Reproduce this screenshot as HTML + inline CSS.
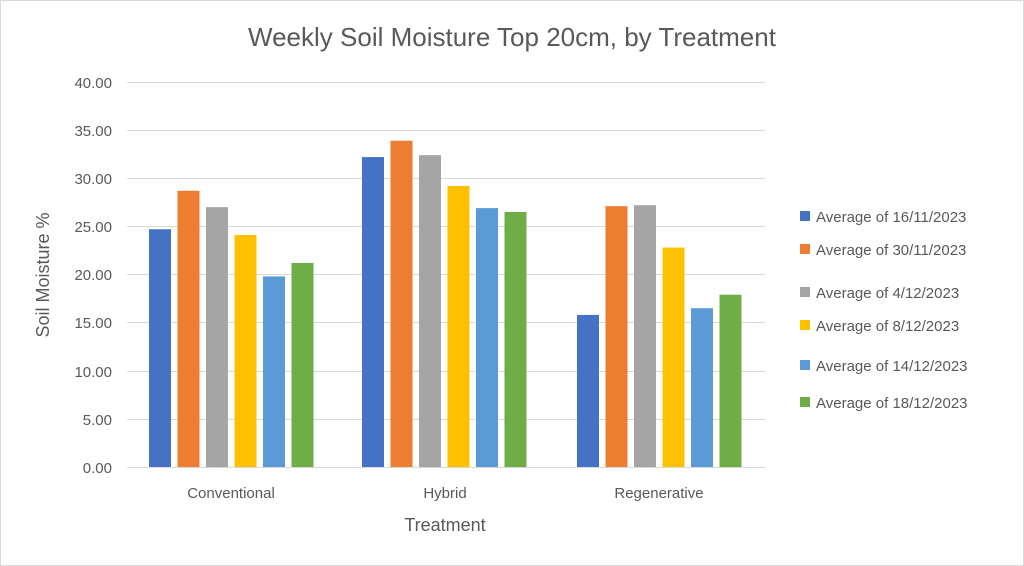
<!DOCTYPE html>
<html><head><meta charset="utf-8"><style>
html,body{margin:0;padding:0;background:#fff;}
svg{display:block;font-family:"Liberation Sans",sans-serif;}
</style></head><body>
<svg width="1024" height="566" viewBox="0 0 1024 566" xmlns="http://www.w3.org/2000/svg">
<rect x="0.5" y="0.5" width="1023" height="565" fill="#fff" stroke="#d9d9d9"/>
<text x="512" y="46" text-anchor="middle" font-size="26" fill="#595959">Weekly Soil Moisture Top 20cm, by Treatment</text>
<g stroke="#d9d9d9" stroke-width="1">
<line x1="127" x2="765" y1="82.5" y2="82.5"/>
<line x1="127" x2="765" y1="130.5" y2="130.5"/>
<line x1="127" x2="765" y1="178.5" y2="178.5"/>
<line x1="127" x2="765" y1="226.5" y2="226.5"/>
<line x1="127" x2="765" y1="274.5" y2="274.5"/>
<line x1="127" x2="765" y1="322.5" y2="322.5"/>
<line x1="127" x2="765" y1="371.5" y2="371.5"/>
<line x1="127" x2="765" y1="419.5" y2="419.5"/>
<line x1="127" x2="765" y1="467.5" y2="467.5"/>
</g>
<g font-size="15" fill="#595959" text-anchor="end">
<text x="112" y="88">40.00</text>
<text x="112" y="136">35.00</text>
<text x="112" y="184">30.00</text>
<text x="112" y="232">25.00</text>
<text x="112" y="280">20.00</text>
<text x="112" y="328">15.00</text>
<text x="112" y="377">10.00</text>
<text x="112" y="425">5.00</text>
<text x="112" y="473">0.00</text>
</g>
<g>
<rect x="149" y="229.26" width="22" height="237.74" fill="#4472C4"/>
<rect x="177.5" y="190.76" width="22" height="276.24" fill="#ED7D31"/>
<rect x="206" y="207.13" width="22" height="259.87" fill="#A5A5A5"/>
<rect x="234.5" y="235.04" width="22" height="231.96" fill="#FFC000"/>
<rect x="263" y="276.43" width="22" height="190.57" fill="#5B9BD5"/>
<rect x="291.5" y="262.95" width="22" height="204.05" fill="#70AD47"/>

<rect x="362" y="157.07" width="22" height="309.93" fill="#4472C4"/>
<rect x="390.5" y="140.71" width="22" height="326.29" fill="#ED7D31"/>
<rect x="419" y="155.15" width="22" height="311.85" fill="#A5A5A5"/>
<rect x="447.5" y="185.95" width="22" height="281.05" fill="#FFC000"/>
<rect x="476" y="208.09" width="22" height="258.91" fill="#5B9BD5"/>
<rect x="504.5" y="211.94" width="22" height="255.06" fill="#70AD47"/>

<rect x="577" y="314.92" width="22" height="152.08" fill="#4472C4"/>
<rect x="605.5" y="206.16" width="22" height="260.84" fill="#ED7D31"/>
<rect x="634" y="205.2" width="22" height="261.8" fill="#A5A5A5"/>
<rect x="662.5" y="247.55" width="22" height="219.45" fill="#FFC000"/>
<rect x="691" y="308.19" width="22" height="158.81" fill="#5B9BD5"/>
<rect x="719.5" y="294.71" width="22" height="172.29" fill="#70AD47"/>
</g>
<g font-size="15" fill="#595959" text-anchor="middle">
<text x="231" y="498">Conventional</text>
<text x="445" y="498">Hybrid</text>
<text x="659" y="498">Regenerative</text>
</g>
<text x="445" y="531" text-anchor="middle" font-size="18" fill="#595959">Treatment</text>
<text transform="translate(49,275) rotate(-90)" text-anchor="middle" font-size="18" fill="#595959">Soil Moisture %</text>
<g font-size="15" fill="#595959">
<rect x="800" y="211" width="10" height="10" fill="#4472C4"/><text x="816" y="222">Average of 16/11/2023</text>
<rect x="800" y="244" width="10" height="10" fill="#ED7D31"/><text x="816" y="255">Average of 30/11/2023</text>
<rect x="800" y="287" width="10" height="10" fill="#A5A5A5"/><text x="816" y="298">Average of 4/12/2023</text>
<rect x="800" y="320" width="10" height="10" fill="#FFC000"/><text x="816" y="331"> Average of 8/12/2023</text>
<rect x="800" y="360" width="10" height="10" fill="#5B9BD5"/><text x="816" y="371">Average of 14/12/2023</text>
<rect x="800" y="397" width="10" height="10" fill="#70AD47"/><text x="816" y="408">Average of 18/12/2023</text>
</g>
</svg>
</body></html>
